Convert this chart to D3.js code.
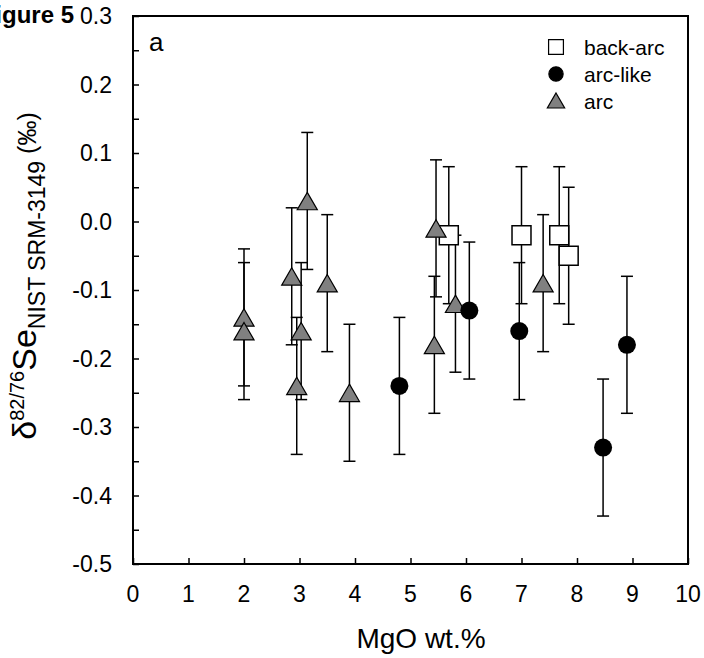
<!DOCTYPE html>
<html lang="en">
<head>
<meta charset="UTF-8">
<title>Figure 5a</title>
<style>
  body { margin: 0; background: #fff; }
  svg text { font-family: "Liberation Sans", Arial, sans-serif; fill: #000; }
</style>
</head>
<body>
<svg height="658" width="704"></svg>
<script src="https://d3js.org/d3.v7.min.js"></script>
<script>

    // data (MgO wt.%, delta Se, 2sd)
    var backArcMgO = [5.69, 7.0, 7.68, 7.85];
    var backArcSe  = [-0.02, -0.02, -0.02, -0.05];
    var arcLikeMgO = [4.8, 6.06, 6.96, 8.47, 8.9];
    var arcLikeSe  = [-0.24, -0.13, -0.16, -0.33, -0.18];
    var arcMgO = [2.0, 2.0, 2.86, 2.95, 3.03, 3.14, 3.5, 3.9, 5.43, 5.46, 5.81, 7.39];
    var arcSe  = [-0.14, -0.16, -0.08, -0.24, -0.16, 0.03, -0.09, -0.25, -0.18, -0.01, -0.12, -0.09];
    var errBar = 0.1;

    var xTicks = [0, 1, 2, 3, 4, 5, 6, 7, 8, 9, 10];
    var yTicks = [0.3, 0.2, 0.1, 0.0, -0.1, -0.2, -0.3, -0.4, -0.5];
    var legendNames = ["back-arc", "arc-like", "arc"];

    var margin = {top: 16, right: 16, bottom: 94, left: 133};
    var svg = d3.select("svg");
    var width = +svg.attr("width") - margin.left - margin.right;
    var height = +svg.attr("height") - margin.top - margin.bottom;

    var g = svg.append("g").attr("transform", "translate(" + margin.left + "," + margin.top + ")");

    var x = d3.scaleLinear().domain([0, 10]).range([0, width]);
    var y = d3.scaleLinear().domain([-0.5, 0.3]).range([height, 0]);

    function zip(xs, ys) {
        return xs.map(function(v, i) { return {x: v, y: ys[i]}; });
    }
    var backArc = zip(backArcMgO, backArcSe);
    var arcLike = zip(arcLikeMgO, arcLikeSe);
    var arc = zip(arcMgO, arcSe);

    // ticks (inside), minor ones every 0.05 on y
    var yAxis = d3.axisLeft(y).tickValues(d3.range(-0.5, 0.3001, 0.05)).tickSize(-6).tickFormat("");
    g.append("g").call(yAxis).call(function(s) {
        s.select(".domain").remove();
        s.selectAll("line").attr("stroke", "#000").attr("stroke-width", 1.5);
    });
    var xAxis = d3.axisBottom(x).tickValues(xTicks).tickSize(-6).tickFormat("");
    g.append("g").attr("transform", "translate(0," + height + ")").call(xAxis).call(function(s) {
        s.select(".domain").remove();
        s.selectAll("line").attr("stroke", "#000").attr("stroke-width", 1.5);
    });

    // tick labels (plain hyphen for minus, as in the original)
    var fmt = d3.format(".1f");
    g.selectAll(".ylab").data(yTicks).enter().append("text")
        .attr("x", -21).attr("y", function(d) { return y(d); })
        .attr("dy", "0.36em").attr("text-anchor", "end")
        .style("font-size", "23px")
        .text(function(d) { return fmt(d).replace("\u2212", "-"); });
    g.selectAll(".xlab").data(xTicks).enter().append("text")
        .attr("x", function(d) { return x(d); }).attr("y", height + 38)
        .attr("text-anchor", "middle")
        .style("font-size", "23px")
        .text(function(d) { return d; });

    // frame
    g.append("rect").attr("width", width).attr("height", height)
        .attr("fill", "none").attr("stroke", "#000").attr("stroke-width", 2);

    // error bars
    var all = backArc.concat(arcLike, arc);
    var eb = g.append("g").attr("stroke", "#000").attr("stroke-width", 1.5);
    all.forEach(function(d) {
        var x0 = x(d.x), y1 = y(d.y + errBar), y2 = y(d.y - errBar);
        eb.append("line").attr("x1", x0).attr("x2", x0).attr("y1", y1).attr("y2", y2);
        eb.append("line").attr("x1", x0 - 6).attr("x2", x0 + 6).attr("y1", y1).attr("y2", y1);
        eb.append("line").attr("x1", x0 - 6).attr("x2", x0 + 6).attr("y1", y2).attr("y2", y2);
    });

    var sqSym = d3.symbol().type(d3.symbolSquare).size(360);
    var triSym = d3.symbol().type(d3.symbolTriangle).size(175);
    var cirSym = d3.symbol().type(d3.symbolCircle).size(255);

    g.selectAll(".sq").data(backArc).enter().append("path")
        .attr("d", sqSym)
        .attr("transform", function(d) { return "translate(" + x(d.x) + "," + y(d.y) + ")"; })
        .attr("fill", "#fff").attr("stroke", "#000").attr("stroke-width", 1.5);
    g.selectAll(".tri").data(arc).enter().append("path")
        .attr("d", triSym)
        .attr("transform", function(d) { return "translate(" + x(d.x) + "," + (y(d.y) + 3) + ")"; })
        .attr("fill", "#808080").attr("stroke", "#000").attr("stroke-width", 1.2);
    g.selectAll(".cir").data(arcLike).enter().append("path")
        .attr("d", cirSym)
        .attr("transform", function(d) { return "translate(" + x(d.x) + "," + y(d.y) + ")"; })
        .attr("fill", "#000");

    // legend
    var legSyms = [
        {sym: d3.symbol().type(d3.symbolSquare).size(220), fill: "#fff", dy: 0},
        {sym: d3.symbol().type(d3.symbolCircle).size(160), fill: "#000", dy: 0},
        {sym: d3.symbol().type(d3.symbolTriangle).size(130), fill: "#808080", dy: 2}
    ];
    var leg = g.selectAll(".leg").data(legendNames).enter().append("g")
        .attr("transform", function(d, i) { return "translate(" + (423) + "," + (31 + i * 27) + ")"; });
    leg.append("path")
        .attr("d", function(d, i) { return legSyms[i].sym(); })
        .attr("transform", function(d, i) { return "translate(0," + legSyms[i].dy + ")"; })
        .attr("fill", function(d, i) { return legSyms[i].fill; })
        .attr("stroke", "#000").attr("stroke-width", 1.2);
    leg.append("text").attr("x", 28).attr("dy", "0.36em")
        .style("font-size", "21px").text(function(d) { return d; });

    // panel letter
    g.append("text").attr("x", 16).attr("y", 35).style("font-size", "26px").text("a");

    // axis titles
    svg.append("text")
        .attr("x", 421).attr("y", 648)
        .attr("text-anchor", "middle").style("font-size", "28px")
        .text("MgO wt.%");

    var yt = svg.append("text")
        .attr("transform", "translate(36," + 276 + ") rotate(-90)")
        .attr("text-anchor", "middle");
    yt.append("tspan").style("font-size", "34px").text("δ");
    yt.append("tspan").style("font-size", "20px").attr("dy", -12).text("82/76");
    yt.append("tspan").style("font-size", "34px").attr("dy", 12).text("Se");
    yt.append("tspan").style("font-size", "23px").attr("dy", 9).text("NIST SRM-3149");
    yt.append("tspan").style("font-size", "25px").attr("dy", -9).text(" (‰)");

    // figure label, partly cut off on the left
    svg.append("text")
        .attr("x", 74).attr("y", 23).attr("text-anchor", "end")
        .style("font-size", "24px").style("font-weight", "bold")
        .text("Figure 5");

</script>
</body>
</html>
